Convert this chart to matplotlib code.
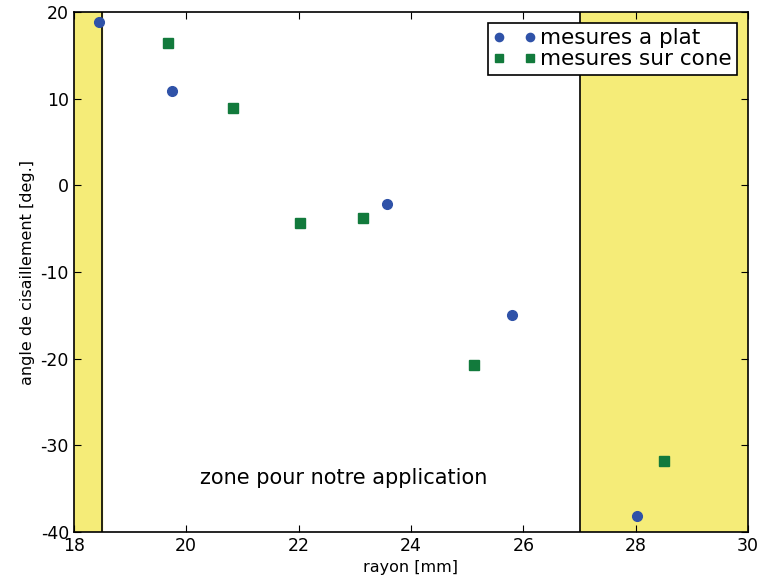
import matplotlib
matplotlib.use("Agg")
import matplotlib.pyplot as plt

plt.rcParams['axes.unicode_minus'] = False

# mesures a plat
x_plat = [18.45, 19.74, 23.57, 25.8, 28.02]
y_plat = [18.9, 10.9, -2.1, -15.0, -38.2]
# mesures sur cone
x_cone = [19.68, 20.83, 22.02, 23.15, 25.12, 28.5]
y_cone = [16.4, 9.0, -4.3, -3.8, -20.7, -31.8]

zone_min, zone_max = 18.5, 27.0
yellow = '#f5ec78'

fig = plt.figure(figsize=(7.61, 5.82), dpi=100)
ax = fig.add_axes([0.097, 0.086, 0.886, 0.893])

ax.axvspan(18, zone_min, color=yellow, zorder=0)
ax.axvspan(zone_max, 30, color=yellow, zorder=0)
ax.axvline(zone_min, color='k', lw=1.2, zorder=1)
ax.axvline(zone_max, color='k', lw=1.2, zorder=1)

ax.plot(x_plat, y_plat, 'o', color='#2f52a8', markersize=7, mec='#2f52a8',
        label='mesures a plat', zorder=3)
ax.plot(x_cone, y_cone, 's', color='#127a3c', markersize=7, mec='#127a3c',
        label='mesures sur cone', zorder=3)

ax.text(22.8, -33.8, 'zone pour notre application', ha='center', va='center', fontsize=15)

ax.set_xlim(18, 30)
ax.set_ylim(-40, 20)
ax.set_xticks([18, 20, 22, 24, 26, 28, 30])
ax.set_yticks([-40, -30, -20, -10, 0, 10, 20])
ax.tick_params(direction='in', labelsize=12.5, length=5)
ax.tick_params(top=True, right=True)
for s in ax.spines.values():
    s.set_linewidth(1.2)

ax.set_xlabel('rayon [mm]', fontsize=11.5)
ax.set_ylabel('angle de cisaillement [deg.]', fontsize=11.5)

leg = ax.legend(loc='upper right', numpoints=2, fontsize=15.5, fancybox=False,
                framealpha=1, edgecolor='k', borderaxespad=0.5,
                handlelength=2.0, handletextpad=0.2, borderpad=0.25,
                labelspacing=0.05, markerscale=0.85)
leg.get_frame().set_linewidth(1.2)

fig.savefig('out.png', dpi=100)
